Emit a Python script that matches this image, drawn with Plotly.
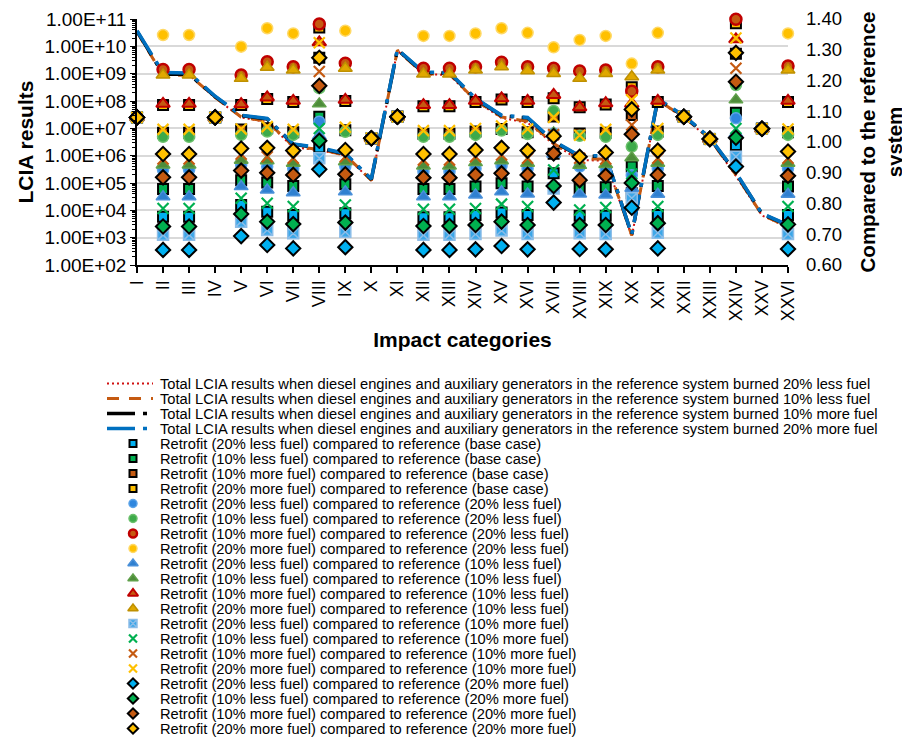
import plotly.graph_objects as go

# ---------------- data ----------------
categories = ["I", "II", "III", "IV", "V", "VI", "VII", "VIII", "IX", "X", "XI", "XII", "XIII",
              "XIV", "XV", "XVI", "XVII", "XVIII", "XIX", "XX", "XXI", "XXII", "XXIII", "XXIV",
              "XXV", "XXVI"]

left_ticks = [1e2, 1e3, 1e4, 1e5, 1e6, 1e7, 1e8, 1e9, 1e10, 1e11]
right_ticks = [0.6, 0.7, 0.8, 0.9, 1.0, 1.1, 1.2, 1.3, 1.4]

# Total LCIA results (left, log axis)
total_20_less = [3.3e10, 9.0e8, 9.0e8, 1.3e8, 2.5e7, 1.7e7, 2.0e6, 1.6e6, 1.0e6, 1.2e5, 7.0e9, 9.5e8, 9.0e8,
                 1.0e8, 2.4e7, 1.6e7, 2.6e6, 7.0e5, 6.5e5, 1.1e3, 1.0e8, 2.5e7, 4.0e6, 1.8e5, 6.5e3, 2.4e3]
total_10_less = [3.4e10, 8.5e8, 9.0e8, 1.35e8, 2.6e7, 1.8e7, 2.2e6, 1.7e6, 1.05e6, 1.25e5, 7.2e9, 1.0e9, 9.5e8,
                 1.05e8, 2.6e7, 1.8e7, 2.8e6, 7.5e5, 7.5e5, 1.2e3, 1.05e8, 2.6e7, 4.1e6, 2.0e5, 6.8e3, 2.5e3]
total_10_more = [3.6e10, 9.5e8, 9.5e8, 1.45e8, 2.9e7, 2.2e7, 2.6e6, 1.9e6, 1.15e6, 1.35e5, 7.6e9, 1.1e9, 1.05e9,
                 1.2e8, 2.9e7, 2.4e7, 3.3e6, 9.5e5, 9.5e5, 1.3e3, 1.15e8, 2.8e7, 4.4e6, 2.3e5, 7.4e3, 2.8e3]
total_20_more = [3.7e10, 1.1e9, 1.05e9, 1.5e8, 3.0e7, 2.3e7, 2.7e6, 2.0e6, 1.2e6, 1.4e5, 7.8e9, 1.15e9, 1.1e9,
                 1.25e8, 3.0e7, 2.5e7, 3.4e6, 1.0e6, 1.0e6, 1.3e3, 1.2e8, 2.9e7, 4.5e6, 2.4e5, 7.6e3, 2.9e3]

# Ratios (right axis): retrofit (x) compared to reference (y)
r20l_vs_base = [1.080, 0.757, 0.757, 1.080, 0.795, 0.773, 0.763, 0.982, 0.768, 1.012, 1.082, 0.755, 0.755,
                0.763, 0.771, 0.763, 0.898, 0.760, 0.760, 0.833, 0.763, 1.082, 1.010, 0.990, 1.043, 0.763]
r10l_vs_base = [1.080, 0.847, 0.847, 1.080, 0.876, 0.868, 0.857, 1.082, 0.863, 1.012, 1.082, 0.847, 0.847,
                0.855, 0.866, 0.855, 0.962, 0.849, 0.853, 0.920, 0.857, 1.082, 1.010, 1.095, 1.043, 0.855]
r10m_vs_base = [1.080, 1.030, 1.030, 1.080, 1.041, 1.045, 1.032, 1.274, 1.038, 1.012, 1.082, 1.027, 1.027,
                1.034, 1.042, 1.032, 1.083, 1.028, 1.030, 1.088, 1.034, 1.082, 1.010, 1.287, 1.043, 1.032]
r20m_vs_base = [1.080, 1.120, 1.120, 1.080, 1.120, 1.140, 1.130, 1.372, 1.133, 1.012, 1.082, 1.116, 1.116,
                1.130, 1.138, 1.130, 1.142, 1.113, 1.122, 1.178, 1.130, 1.082, 1.010, 1.386, 1.043, 1.130]

r20l_vs_20l = [1.080, 0.909, 0.909, 1.080, 0.925, 0.920, 0.914, 1.066, 0.920, 1.012, 1.082, 0.903, 0.903,
               0.914, 0.922, 0.914, 1.028, 0.920, 0.910, 0.892, 0.914, 1.082, 1.010, 1.077, 1.043, 0.914]
r10l_vs_20l = [1.080, 1.017, 1.017, 1.080, 1.023, 1.034, 1.023, 1.175, 1.033, 1.012, 1.082, 1.017, 1.017,
               1.023, 1.037, 1.026, 1.101, 1.020, 1.017, 0.985, 1.023, 1.082, 1.010, 1.185, 1.043, 1.023]
r10m_vs_20l = [1.080, 1.236, 1.236, 1.080, 1.218, 1.261, 1.245, 1.384, 1.256, 1.012, 1.082, 1.240, 1.240,
               1.245, 1.259, 1.245, 1.240, 1.231, 1.234, 1.165, 1.245, 1.082, 1.010, 1.399, 1.043, 1.247]
r20m_vs_20l = [1.080, 1.348, 1.348, 1.080, 1.310, 1.370, 1.353, None, 1.362, 1.012, 1.082, 1.345, 1.345,
               1.353, 1.370, 1.355, 1.308, 1.332, 1.345, 1.255, 1.355, 1.082, 1.010, None, 1.043, 1.353]

r20l_vs_10l = [1.080, 0.822, 0.822, 1.080, 0.855, 0.844, 0.835, 1.020, 0.838, 1.012, 1.082, 0.822, 0.822,
               0.828, 0.838, 0.831, 0.961, 0.831, 0.828, 0.850, 0.830, 1.082, 1.010, 1.027, 1.043, 0.830]
r10l_vs_10l = [1.080, 0.925, 0.925, 1.080, 0.941, 0.939, 0.931, 1.124, 0.936, 1.012, 1.082, 0.922, 0.922,
               0.933, 0.939, 0.931, 1.029, 0.924, 0.927, 0.949, 0.931, 1.082, 1.010, 1.137, 1.043, 0.931]
r10m_vs_10l = [1.080, 1.124, 1.124, 1.080, 1.123, 1.145, 1.134, 1.324, 1.137, 1.012, 1.082, 1.120, 1.120,
               1.134, 1.142, 1.134, 1.153, 1.113, 1.126, 1.124, 1.134, 1.082, 1.010, 1.334, 1.043, 1.134]
r20m_vs_10l = [1.080, 1.218, 1.218, 1.080, 1.207, 1.243, 1.234, None, 1.240, 1.012, 1.082, 1.221, 1.221,
               1.234, 1.245, 1.232, 1.223, 1.207, 1.223, 1.212, 1.234, 1.082, 1.010, None, 1.043, 1.234]

r20l_vs_10m = [1.080, 0.698, 0.698, 1.080, 0.741, 0.714, 0.703, 0.947, 0.708, 1.012, 1.082, 0.698, 0.698,
               0.701, 0.712, 0.701, 0.849, 0.703, 0.701, 0.817, 0.705, 1.082, 1.010, 0.952, 1.043, 0.701]
r10l_vs_10m = [1.080, 0.784, 0.784, 1.080, 0.817, 0.801, 0.790, 1.044, 0.795, 1.012, 1.082, 0.781, 0.781,
               0.784, 0.798, 0.790, 0.909, 0.779, 0.787, 0.896, 0.790, 1.082, 1.010, 1.044, 1.043, 0.790]
r10m_vs_10m = [1.080, 0.945, 0.945, 1.080, 0.960, 0.952, 0.947, 1.229, 0.952, 1.012, 1.082, 0.941, 0.941,
               0.952, 0.958, 0.947, 1.024, 0.947, 0.945, 1.055, 0.947, 1.082, 1.010, 1.240, 1.043, 0.947]
r20m_vs_10m = [1.080, 1.041, 1.041, 1.080, 1.042, 1.050, 1.041, 1.323, 1.048, 1.012, 1.082, 1.037, 1.037,
               1.044, 1.052, 1.042, 1.080, 1.022, 1.041, 1.137, 1.044, 1.082, 1.010, 1.338, 1.043, 1.042]

r20l_vs_20m = [1.080, 0.649, 0.649, 1.080, 0.694, 0.665, 0.654, 0.911, 0.658, 1.012, 1.082, 0.649, 0.649,
               0.651, 0.662, 0.651, 0.803, 0.652, 0.651, 0.786, 0.654, 1.082, 1.010, 0.920, 1.043, 0.652]
r10l_vs_20m = [1.080, 0.725, 0.725, 1.080, 0.766, 0.741, 0.733, 1.004, 0.738, 1.012, 1.082, 0.727, 0.727,
               0.730, 0.741, 0.730, 0.857, 0.730, 0.730, 0.867, 0.736, 1.082, 1.010, 1.014, 1.043, 0.732]
r10m_vs_20m = [1.080, 0.885, 0.885, 1.080, 0.907, 0.900, 0.893, 1.183, 0.895, 1.012, 1.082, 0.884, 0.884,
               0.893, 0.898, 0.893, 0.963, 0.876, 0.890, 1.025, 0.893, 1.082, 1.010, 1.196, 1.043, 0.890]
r20m_vs_20m = [1.080, 0.961, 0.961, 1.080, 0.979, 0.981, 0.972, 1.274, 0.974, 1.012, 1.082, 0.961, 0.961,
               0.974, 0.981, 0.972, 1.019, 0.952, 0.966, 1.106, 0.972, 1.082, 1.010, 1.290, 1.043, 0.969]

retrofit_labels = ["20% less fuel", "10% less fuel", "10% more fuel", "20% more fuel"]
reference_labels = ["base case", "20% less fuel", "10% less fuel", "10% more fuel", "20% more fuel"]
line_fuel_labels = ["20% less fuel", "10% less fuel", "10% more fuel", "20% more fuel"]

# ---------------- styles / layout (pixels; the page has an 8 px body margin) ----------------
FONT = "Liberation Sans, Arial, sans-serif"
W, H = 902, 732
PX_L, PX_R, PX_T, PX_B = 129, 780, 11, 257          # main plot area in figure pixels
LEG_TOP, LEG_STEP = 375.5, 15.0                     # custom legend rows
LEG_LINE_X0, LEG_LINE_X1, LEG_MARK_X, LEG_TEXT_X = 99, 145, 125, 150

line_values = [total_20_less, total_10_less, total_10_more, total_20_more]
line_styles = [
    dict(color="#D01010", width=2, dash="2px,3px"),
    dict(color="#C55A11", width=3, dash="12px,10px"),
    dict(color="#000000", width=3.5, dash="28px,8px,4px,8px"),
    dict(color="#0070C0", width=3.5, dash="28px,8px,4px,8px"),
]

ratio_values = [
    r20l_vs_base, r10l_vs_base, r10m_vs_base, r20m_vs_base,
    r20l_vs_20l, r10l_vs_20l, r10m_vs_20l, r20m_vs_20l,
    r20l_vs_10l, r10l_vs_10l, r10m_vs_10l, r20m_vs_10l,
    r20l_vs_10m, r10l_vs_10m, r10m_vs_10m, r20m_vs_10m,
    r20l_vs_20m, r10l_vs_20m, r10m_vs_20m, r20m_vs_20m,
]
ratio_labels = [f"Retrofit ({a}) compared to reference ({b})"
                for b in reference_labels for a in retrofit_labels]


def mk(symbol, fill, lcol, lw, size):
    return dict(symbol=symbol, color=fill, size=size, line=dict(color=lcol, width=lw))


marker_styles = [
    mk("square", "#00B0F0", "#000000", 2, 10),
    mk("square", "#00B050", "#000000", 2, 10),
    mk("square", "#C55A11", "#000000", 2, 10),
    mk("square", "#FFC000", "#000000", 2, 10),
    mk("circle", "#2E86DE", "#5BA3E8", 1.5, 11),
    mk("circle", "#3DAA4A", "#6CC06C", 1.5, 11),
    mk("circle", "#C55A11", "#C00000", 2.5, 11),
    mk("circle", "#FFC000", "#FFD966", 1.5, 11),
    mk("triangle-up", "#2F80D0", "#4A90D9", 1.5, 12),
    mk("triangle-up", "#4D8C3A", "#5FA04A", 1.5, 12),
    mk("triangle-up", "#C55A11", "#C00000", 2, 12),
    mk("triangle-up", "#E0A800", "#BF9000", 1.5, 12),
    mk("square-x", "#3BA7E8", "#8CBDE8", 1.5, 11),
    mk("x-thin", "#00B050", "#00B050", 2.2, 11),
    mk("x-thin", "#C55A11", "#C55A11", 2.2, 11),
    mk("x-thin", "#FFC000", "#FFC000", 2.2, 11),
    mk("diamond", "#00B0F0", "#000000", 2, 11),
    mk("diamond", "#00B050", "#000000", 2, 11),
    mk("diamond", "#C55A11", "#000000", 2, 11),
    mk("diamond", "#FFC000", "#000000", 2, 11),
]

fig = go.Figure()

# total LCIA lines (left axis)
for vals, st in zip(line_values, line_styles):
    fig.add_trace(go.Scatter(x=categories, y=vals, mode="lines", line=st,
                             xaxis="x", yaxis="y", showlegend=False, hoverinfo="skip"))

# ratio markers (right axis)
for vals, st, lab in zip(ratio_values, marker_styles, ratio_labels):
    fig.add_trace(go.Scatter(x=categories, y=vals, mode="markers", marker=st, name=lab,
                             xaxis="x", yaxis="y2", cliponaxis=False, showlegend=False))

# ---------------- custom legend (compact rows like the original) ----------------
legend_texts = [f"Total LCIA results when diesel engines and auxiliary generators in the reference system burned {f}"
                for f in line_fuel_labels] + ratio_labels
annotations = []
for i, st in enumerate(line_styles):
    fig.add_trace(go.Scatter(x=[LEG_LINE_X0, LEG_LINE_X1], y=[-i, -i], mode="lines", line=st,
                             xaxis="x3", yaxis="y3", showlegend=False, hoverinfo="skip"))
for j, st in enumerate(marker_styles):
    row = len(line_styles) + j
    small = dict(st)
    small["size"] = st["size"] - 3
    fig.add_trace(go.Scatter(x=[LEG_MARK_X], y=[-row], mode="markers", marker=small,
                             xaxis="x3", yaxis="y3", showlegend=False, hoverinfo="skip"))
for i, t in enumerate(legend_texts):
    annotations.append(dict(x=LEG_TEXT_X, y=-i, xref="x3", yref="y3", text=t, showarrow=False,
                            xanchor="left", yanchor="middle",
                            font=dict(family=FONT, size=14.7, color="#000000")))

n_rows = len(legend_texts)
leg_top_px = LEG_TOP - LEG_STEP / 2
leg_bot_px = LEG_TOP + (n_rows - 1) * LEG_STEP + LEG_STEP / 2

fig.update_layout(
    width=W, height=H,
    margin=dict(l=0, r=0, t=0, b=0, autoexpand=False),
    paper_bgcolor="white", plot_bgcolor="white",
    font=dict(family=FONT, color="#000000"),
    showlegend=False,
    annotations=annotations,
    xaxis=dict(
        type="category", range=[0, len(categories) - 1],
        domain=[PX_L / W, PX_R / W], anchor="y",
        showline=True, linecolor="#000000", linewidth=2,
        ticks="outside", ticklen=6, tickwidth=1.5, tickcolor="#000000",
        tickangle=-90, tickfont=dict(size=18, family=FONT, color="#000000"),
        showgrid=False, zeroline=False,
        title=dict(text="<b>Impact categories</b>", font=dict(size=21, family=FONT), standoff=12),
    ),
    yaxis=dict(
        type="log", range=[2, 11],
        domain=[1 - PX_B / H, 1 - PX_T / H], anchor="x",
        tickvals=left_ticks, ticktext=[f"{v:.2E}" for v in left_ticks],
        tickfont=dict(size=19, family=FONT, color="#000000"),
        ticklabeloverflow="allow",
        showgrid=True, gridcolor="#D9D9D9", gridwidth=1.5,
        showline=True, linecolor="#000000", linewidth=1.5,
        ticks="outside", ticklen=5, tickcolor="#000000",
        minor=dict(ticks="outside", ticklen=3, tickcolor="#000000", dtick="D1", showgrid=False),
        zeroline=False,
        title=dict(text="<b>LCIA results</b>", font=dict(size=21, family=FONT), standoff=5),
    ),
    yaxis2=dict(
        overlaying="y", side="right", anchor="x", range=[0.6, 1.4],
        tickvals=right_ticks, ticktext=[f"{v:.2f}" for v in right_ticks],
        tickfont=dict(size=18.5, family=FONT, color="#000000"),
        ticklabeloverflow="allow",
        showgrid=False, showline=False, ticks="", zeroline=False,
        ticklabelstandoff=17,
        title=dict(text="<b>Compared to the reference<br>system</b>", font=dict(size=20.5, family=FONT),
                   standoff=19),
    ),
    xaxis3=dict(domain=[0, 1], range=[0, W], anchor="y3", visible=False, fixedrange=True),
    yaxis3=dict(domain=[1 - leg_bot_px / H, 1 - leg_top_px / H], range=[-(n_rows - 0.5), 0.5],
                anchor="x3", visible=False, fixedrange=True),
)

fig.write_html("out.html")
